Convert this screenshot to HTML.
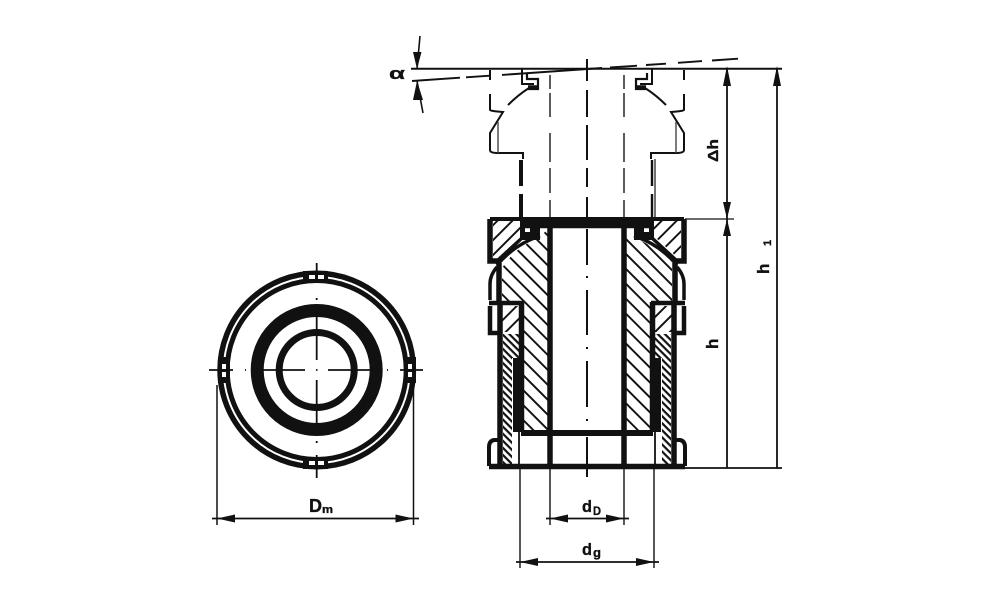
<!DOCTYPE html>
<html>
<head>
<meta charset="utf-8">
<style>
html,body{margin:0;padding:0;background:#fff;width:1000px;height:611px;overflow:hidden}
svg{display:block}
text{font-family:"Liberation Sans",sans-serif;fill:#111;stroke:#111;stroke-width:.35}
</style>
</head>
<body>
<svg width="1000" height="611" viewBox="0 0 1000 611" xmlns="http://www.w3.org/2000/svg">
<defs>
<pattern id="hb" width="16" height="16" patternUnits="userSpaceOnUse" patternTransform="rotate(45) scale(0.66)"><rect x="0" y="0" width="16" height="2.9" fill="#111"/></pattern>
<pattern id="hf" width="16" height="16" patternUnits="userSpaceOnUse" patternTransform="rotate(-45) scale(0.66)"><rect x="0" y="0" width="16" height="2.9" fill="#111"/></pattern>
<pattern id="hd" width="5" height="5" patternUnits="userSpaceOnUse" patternTransform="rotate(45)"><rect x="0" y="0" width="5" height="2.2" fill="#111"/></pattern>
<g id="half" fill="none" stroke="#111">
  <!-- phantom upper -->
  <path d="M490 70V80M490 94V110Q490 111 503 112L490 133V150Q490 153 498 153H523V159" stroke-width="2"/>
  <path d="M498 122V153" stroke-width="1.4" stroke="#444"/>
  <path d="M508 105Q518 95 529 88" stroke-width="2"/>
  <path d="M522 69V84H534" stroke-width="2"/>
  <path d="M527 73V79H538V89H528" stroke-width="2.2"/>
  <path d="M528 87H538" stroke-width="3.5"/>
  <path d="M550 75V89M550 93V117M550 133V162M550 168V193M550 200V217" stroke-width="1.6" stroke="#333"/>
  <!-- nut -->
  <path d="M490 219V261H498" stroke-width="5.5"/>
  <path d="M497 261L522 238" stroke-width="3.5"/>
  <path d="M497 267Q490 275 490 284V300" stroke-width="3.5"/>
  <path d="M499 263V301" stroke-width="5.5"/>
  <path d="M497 265Q515 244 540 236" stroke-width="3.5"/>
  <path d="M489 303H523" stroke-width="4.5"/>
  <path d="M490 306V333H500" stroke-width="4.5"/>
  <path d="M500 303V466" stroke-width="5.5"/>
  <path d="M521.5 302V432" stroke-width="5.5"/>
  <path d="M550 218V466" stroke-width="5.5"/>
  <path d="M501 440H494Q489 441 489 447V466" stroke-width="4"/>
  <path d="M519 432V466" stroke-width="1.8"/>
  <rect x="513" y="358" width="10" height="74" fill="#111" stroke="none"/>
  <rect x="520" y="218" width="20" height="22" fill="#111" stroke="none"/>
  <rect x="525" y="223" width="5" height="9" fill="#fff" stroke="none"/>
  <path d="M525.5 227H530" stroke-width="1.2"/>
</g>
</defs>

<rect width="1000" height="611" fill="#fff"/>

<!-- hatching -->
<path d="M493 221H520V236L496 258H493Z" fill="url(#hf)"/>
<path d="M681 221H654V236L678 258H681Z" fill="url(#hf)"/>
<path d="M502 268Q516 246 540 238L548 228V431H524V302H502Z" fill="url(#hb)"/>
<path d="M672 268Q658 246 634 238L626 228V431H650V302H672Z" fill="url(#hb)"/>
<rect x="502" y="306" width="18" height="26" fill="url(#hf)"/>
<rect x="654" y="306" width="18" height="26" fill="url(#hf)"/>
<path d="M503 334H520V358H512V464H503Z" fill="url(#hd)"/>
<path d="M671 334H654V358H662V464H671Z" fill="url(#hd)"/>

<use href="#half"/>
<use href="#half" transform="matrix(-1 0 0 1 1174 0)"/>

<g stroke="#111" fill="none">
  <path d="M490 219H684" stroke-width="4"/>
  <path d="M520 223H654" stroke-width="10.5"/>
  <path d="M489 466.5H685" stroke-width="5.5"/>
  <path d="M521 433H653" stroke-width="6"/>
  <!-- neck -->
  <path d="M521 160V186M521 194V218" stroke-width="4"/>
  <path d="M652 160V186M652 194V218" stroke-width="2.4"/>
  <path d="M655 159V218" stroke-width="1.2"/>
  <!-- centre line -->
  <path d="M587 59V81M587 90V117M587 125V160M587 168V187M587 197V217M587 229V265M587 276V278M587 290V335M587 347V349M587 361V407M587 419V421M587 437V477" stroke-width="2"/>
  <!-- top dims -->
  <path d="M411 68.7H782" stroke-width="2"/>
  <path d="M412 81L460 77.7M466 77.3L490 75.7M502 74.9L602 68M610 67.5L637 65.7M646 65L666 63.7M678 62.8L702 61.1M712 60.5L738 58.7" stroke-width="1.9"/>
  <path d="M685 219H734" stroke-width="1.2"/>
  <path d="M685 468H782" stroke-width="1.8"/>
  <path d="M727 69V468M777 69V468" stroke-width="1.8"/>
  <path d="M420 36L417 69M417 81L423 113" stroke-width="1.6"/>
  <!-- bottom dims -->
  <path d="M550 469V525M624 469V525M520 469V568M654 469V568" stroke-width="1.4"/>
  <path d="M546 518.5H629M516 562H659" stroke-width="1.7"/>
  <!-- left view -->
  <circle cx="316.7" cy="370" r="96.7" stroke-width="5.5"/>
  <circle cx="316.7" cy="370" r="89.5" stroke-width="5"/>
  <circle cx="316.7" cy="370" r="59.5" stroke-width="13"/>
  <circle cx="316.7" cy="370" r="37.5" stroke-width="7"/>
</g>

<!-- notches -->
<g fill="#111">
  <rect x="303" y="271" width="25" height="12"/>
  <rect x="303" y="457" width="25" height="12"/>
  <rect x="218" y="357" width="12" height="26"/>
  <rect x="404" y="357" width="12" height="26"/>
</g>
<g fill="#fff">
  <rect x="309" y="275" width="6" height="4"/><rect x="318" y="275" width="6" height="4"/>
  <rect x="309" y="461" width="6" height="4"/><rect x="318" y="461" width="6" height="4"/>
  <rect x="222" y="364" width="4" height="5"/><rect x="222" y="372" width="4" height="5"/>
  <rect x="408" y="364" width="4" height="5"/><rect x="408" y="372" width="4" height="5"/>
</g>
<g stroke="#111" fill="none">
  <path d="M209 370H233M245 370H246M263 370H305M316 370H317.5M328 370H372M387 370H388M400 370H423" stroke-width="1.8"/>
  <path d="M316.7 263V282M316.7 298V300M316.7 317V360M316.7 380V425M316.7 441V443M316.7 455V478" stroke-width="1.8"/>
  <path d="M217 385V525M413.5 385V525" stroke-width="1.5"/>
  <path d="M212 518.5H419" stroke-width="1.8"/>
</g>

<!-- arrowheads -->
<g fill="#111">
  <path d="M217 518.5L235 514.5V522.5Z"/>
  <path d="M413.5 518.5L395.5 514.5V522.5Z"/>
  <path d="M550 518.5L568 514.5V522.5Z"/>
  <path d="M624 518.5L606 514.5V522.5Z"/>
  <path d="M520 562L538 558V566Z"/>
  <path d="M654 562L636 558V566Z"/>
  <path d="M727 66L723 86H731Z"/>
  <path d="M777 66L773 86H781Z"/>
  <path d="M727 219L723 202H731Z"/>
  <path d="M727 219L723 236H731Z"/>
  <path d="M417 69L413 52H421.5Z"/>
  <path d="M417 81L413 100H423Z"/>
</g>

<!-- labels -->
<text x="309" y="512" font-size="18" font-weight="bold" textLength="13" lengthAdjust="spacingAndGlyphs">D</text>
<text x="322" y="513" font-size="11" font-weight="bold" textLength="11" lengthAdjust="spacingAndGlyphs">m</text>
<text x="582" y="512" font-size="17" font-weight="bold" textLength="10" lengthAdjust="spacingAndGlyphs">d</text>
<text x="593" y="515" font-size="12" font-weight="bold" textLength="8" lengthAdjust="spacingAndGlyphs">D</text>
<text x="582" y="555" font-size="17" font-weight="bold" textLength="10" lengthAdjust="spacingAndGlyphs">d</text>
<text x="593" y="557" font-size="13" font-weight="bold" textLength="8" lengthAdjust="spacingAndGlyphs">g</text>
<text transform="translate(718,162) rotate(-90)" font-size="15" font-weight="bold" textLength="23" lengthAdjust="spacingAndGlyphs">Δh</text>
<text transform="translate(718,349) rotate(-90)" font-size="17" font-weight="bold">h</text>
<text transform="translate(769,274) rotate(-90)" font-size="17" font-weight="bold">h</text>
<text transform="translate(771,246) rotate(-90)" font-size="11" font-weight="bold">1</text>
<text transform="translate(389,79) scale(1.3,0.85)" font-size="20" font-weight="bold">α</text>
</svg>
</body>
</html>
